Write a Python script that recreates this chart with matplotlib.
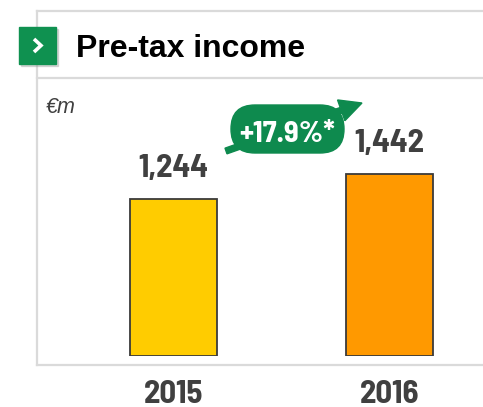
import matplotlib.pyplot as plt
from matplotlib.patches import FancyBboxPatch, FancyArrow, Rectangle
from matplotlib.lines import Line2D

years = ["2015", "2016"]
income = [1244, 1442]
bar_colors = ["#FFCC00", "#FF9900"]
value_labels = ["1,244", "1,442"]
growth_label = "+17.9%*"
title = "Pre-tax income"
unit = "€m"

W, H = 483, 407
NARROW = ["Barlow Semi Condensed", "Liberation Sans", "DejaVu Sans"]
SANS = ["Liberation Sans", "DejaVu Sans"]
DARK = "#404040"
GREEN = "#0E8A4E"
GRID = "#DADADA"

fig = plt.figure(figsize=(W / 100, H / 100), dpi=100)

# overlay in pixel coordinates for frame and decorations
over = fig.add_axes([0, 0, 1, 1])
over.set_xlim(0, W)
over.set_ylim(H, 0)
over.axis("off")

# light frame
for xs, ys in [((37, W), (11, 11)), ((37, W), (78, 78)), ((37, W), (365, 365)), ((37, 37), (11, 365))]:
    over.add_line(Line2D(xs, ys, color=GRID, lw=1.6))

# green icon with chevron
over.add_patch(Rectangle((21, 29), 37, 37, color="#9a9a9a", alpha=0.35, zorder=2))
over.add_patch(Rectangle((19, 27), 37, 37, color="#0F9150", zorder=3))
over.add_line(Line2D([34, 41, 34], [39, 45.5, 52], color="white", lw=2.6, zorder=4,
                     solid_capstyle="butt", solid_joinstyle="miter"))

over.text(76, 57, title, fontsize=23, fontweight="bold", family=SANS, color="black",
          va="baseline", ha="left")
over.text(46, 113, unit, fontsize=15.5, style="italic", family=SANS, color=DARK,
          va="baseline", ha="left")

# bar axes: baseline at y=356 px, 157 px for 1244
bottom_px, top_px = 356, 78
scale = (356 - 199) / income[0]
ax = fig.add_axes([37 / W, (H - bottom_px) / H, (W - 37) / W, (bottom_px - top_px) / H])
ax.set_ylim(0, (bottom_px - top_px) / scale)
ax.set_xlim(-0.632, 1.433)
ax.axis("off")
x = range(len(years))
ax.bar(x, income, width=0.403, color=bar_colors, edgecolor="#3a3a3a", linewidth=1.3)
for i, v in enumerate(income):
    ax.annotate(value_labels[i], (i, v), xytext=(0, 16), textcoords="offset points",
                ha="center", va="baseline", fontsize=23.5, fontweight="bold",
                family=NARROW, color=DARK)
    ax.annotate(years[i], (i, 0), xytext=(0, -33.5), textcoords="offset points",
                ha="center", va="baseline", fontsize=23.5, fontweight="bold",
                family=NARROW, color=DARK, annotation_clip=False)

# growth badge with arrow
over.add_patch(FancyArrow(226, 151, 136 - 22 * 136 / 144, -48 + 22 * 48 / 144, width=6,
                          head_width=22, head_length=22, length_includes_head=False,
                          color=GREEN, zorder=5))
over.add_patch(FancyBboxPatch((231, 105), 113, 48, boxstyle="round,pad=0,rounding_size=24",
                              color=GREEN, zorder=6))
over.text(287.5, 142, growth_label, fontsize=22, fontweight="bold", family=NARROW,
          color="white", ha="center", va="baseline", zorder=7)

fig.savefig("out.png", dpi=100)
